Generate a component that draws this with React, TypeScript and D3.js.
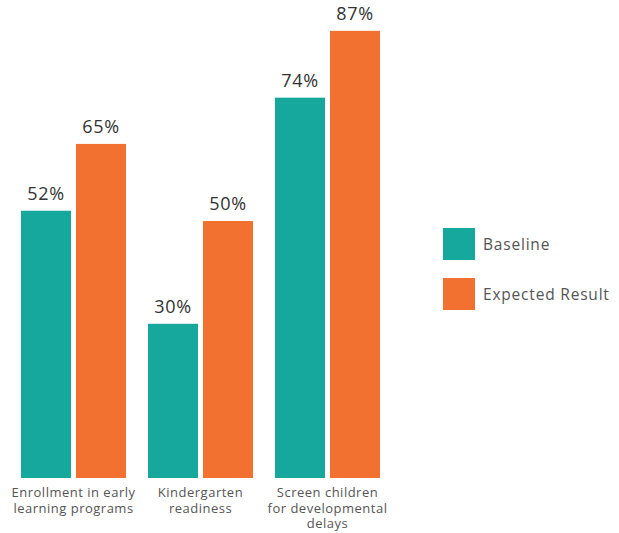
import React from "react";
import * as d3 from "d3";

const categories = [
  ["Enrollment in early", "learning programs"],
  ["Kindergarten", "readiness"],
  ["Screen children", "for developmental", "delays"],
];
const seriesNames = ["Baseline", "Expected Result"];
const baseline = [52, 30, 74];
const expected = [65, 50, 87];
const colors = ["#17A89D", "#F27030"];

const W = 619;
const H = 533;
const FONT = "'Open Sans', sans-serif";

export default function App() {
  const keys = categories.map((_, i) => String(i));
  const x0 = d3.scaleBand<string>().domain(keys).range([21, 380]).paddingInner(22 / 127).paddingOuter(0);
  const x1 = d3
    .scaleBand<string>()
    .domain(seriesNames)
    .range([0, x0.bandwidth()])
    .paddingInner(5 / 55)
    .paddingOuter(0);
  const y = d3.scaleLinear().domain([0, 93]).range([478, 0]);
  const series = [baseline, expected];

  return (
    <svg
      width={W}
      height={H}
      style={{ position: "absolute", left: 0, top: 0, background: "#fff" }}
      fontFamily={FONT}
    >
      {categories.map((lines, ci) => (
        <g key={ci} transform={`translate(${x0(keys[ci])},0)`}>
          {seriesNames.map((s, si) => {
            const v = series[si][ci];
            const bx = x1(s)!;
            return (
              <g key={s}>
                <rect x={bx} y={y(v)} width={x1.bandwidth()} height={y(0) - y(v)} fill={colors[si]} />
                <text
                  x={bx + x1.bandwidth() / 2}
                  y={y(v) - 11}
                  textAnchor="middle"
                  fontSize={18}
                  letterSpacing={0.6}
                  fill="#333"
                >
                  {v}%
                </text>
              </g>
            );
          })}
          <text y={497} textAnchor="middle" fontSize={13} letterSpacing={0.5} fill="#555">
            {lines.map((ln, li) => (
              <tspan key={li} x={x0.bandwidth() / 2} dy={li === 0 ? 0 : 15.5}>
                {ln}
              </tspan>
            ))}
          </text>
        </g>
      ))}
      {seriesNames.map((s, si) => (
        <g key={s} transform={`translate(443,${228 + si * 50})`}>
          <rect width={32} height={32} fill={colors[si]} />
          <text x={40} y={22} fontSize={15.5} letterSpacing={0.8} fill="#555">
            {s}
          </text>
        </g>
      ))}
    </svg>
  );
}
